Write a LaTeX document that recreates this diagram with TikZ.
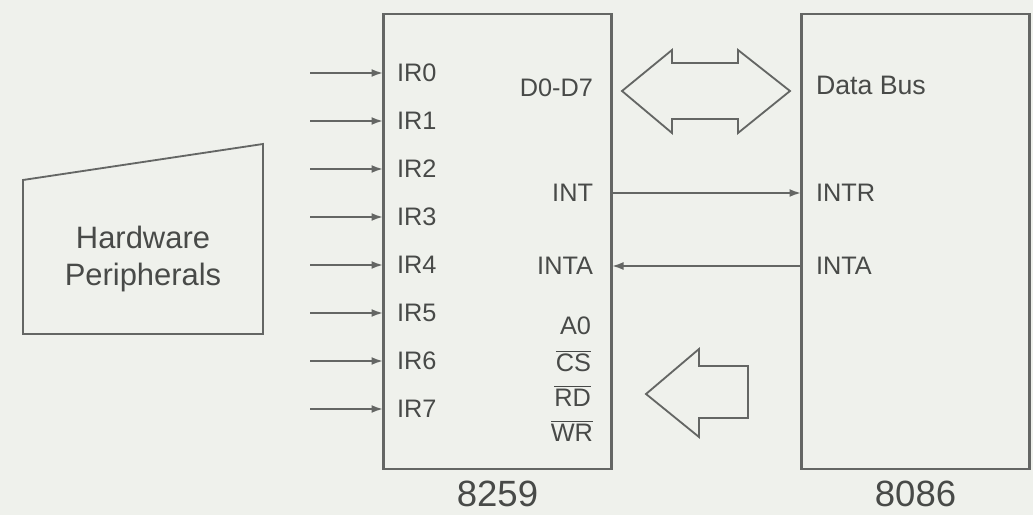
\documentclass[tikz,border=0pt]{standalone}
\usepackage{fontspec}
\setmainfont{Liberation Sans}
\usepackage{tikz}
\usetikzlibrary{positioning,arrows.meta,calc}

\definecolor{linegray}{RGB}{100,102,100}
\definecolor{textgray}{RGB}{72,74,72}
\definecolor{paper}{RGB}{239,241,236}

\newcommand{\notsig}[1]{$\overline{\mbox{#1}}$}

\begin{document}
\begin{tikzpicture}[
    x=0.25mm, y=-0.25mm,
    node distance=47.5mm,
    >={Latex[length=3mm,width=2mm]},
    font=\fontsize{18}{21}\selectfont,
    every node/.style={text=textgray, inner sep=0pt, outer sep=0pt},
    chip/.style={draw=linegray, line width=1.5pt, rectangle,
        minimum width=57mm, minimum height=113.75mm},
    sig/.style={draw=linegray, line width=1.9pt, ->},
    blockarrow/.style={draw=linegray, line width=1.3pt, line join=miter}
]

% Paper
\fill[paper] (0,0) rectangle (1033,515);
\useasboundingbox (0,0) rectangle (1033,515);

% 8259 PIC
\node[chip] (pic) at (497.5,241.5) {};
\node[below=3mm of pic, font=\fontsize{26}{30}\selectfont] (piclabel) {8259};

% 8086 CPU
\node[chip, right=47.5mm of pic] (cpu) {};
\node[below=3mm of cpu, font=\fontsize{26}{30}\selectfont] (cpulabel) {8086};

% Hardware peripherals
\draw[blockarrow] (23,180) -- (263,144) -- (263,334) -- (23,334) -- cycle;
\node[align=center, font=\fontsize{22}{27}\selectfont] (hw) at (143,259)
    {Hardware\\Peripherals};

% Interrupt requests
\foreach \i in {0,...,7} {
    \node[anchor=west] (ir\i) at (397,{73+48*\i}) {IR\i};
    \coordinate (req\i) at (310,{73+48*\i});
    \draw[sig] (req\i) -- (req\i -| pic.west);
}

% 8259 pins
\node[anchor=east] (data) at (593,88) {D0-D7};
\node[anchor=east] (int) at (593,193) {INT};
\node[anchor=east] (inta) at (593,266) {INTA};
\node[anchor=base east] (a0) at (591,334) {A0};
\node[anchor=base east] (cs) at (591,371) {\notsig{CS}};
\node[anchor=base east] (rd) at (591,406) {\notsig{RD}};
\node[anchor=base east] (wr) at (593,441) {\notsig{WR}};

% 8086 pins
\node[anchor=west, font=\fontsize{19}{22}\selectfont] (bus) at (816,85) {Data Bus};
\node[anchor=west] (intr) at (816,193) {INTR};
\node[anchor=west] (intacpu) at (816,266) {INTA};

% Handshake
\draw[sig] (int -| pic.east) -- (intr -| cpu.west);
\draw[sig] (intacpu -| cpu.west) -- (inta -| pic.east);

% Data bus
\draw[blockarrow] (622,91) -- (672,50) -- (672,63) -- (738,63) -- (738,50)
    -- (790,91) -- (738,133) -- (738,119) -- (672,119) -- (672,133) -- cycle;

% Control bus
\draw[blockarrow] (646,394) -- (699,349) -- (699,366) -- (748,366)
    -- (748,418) -- (699,418) -- (699,437) -- cycle;

\end{tikzpicture}
\end{document}
